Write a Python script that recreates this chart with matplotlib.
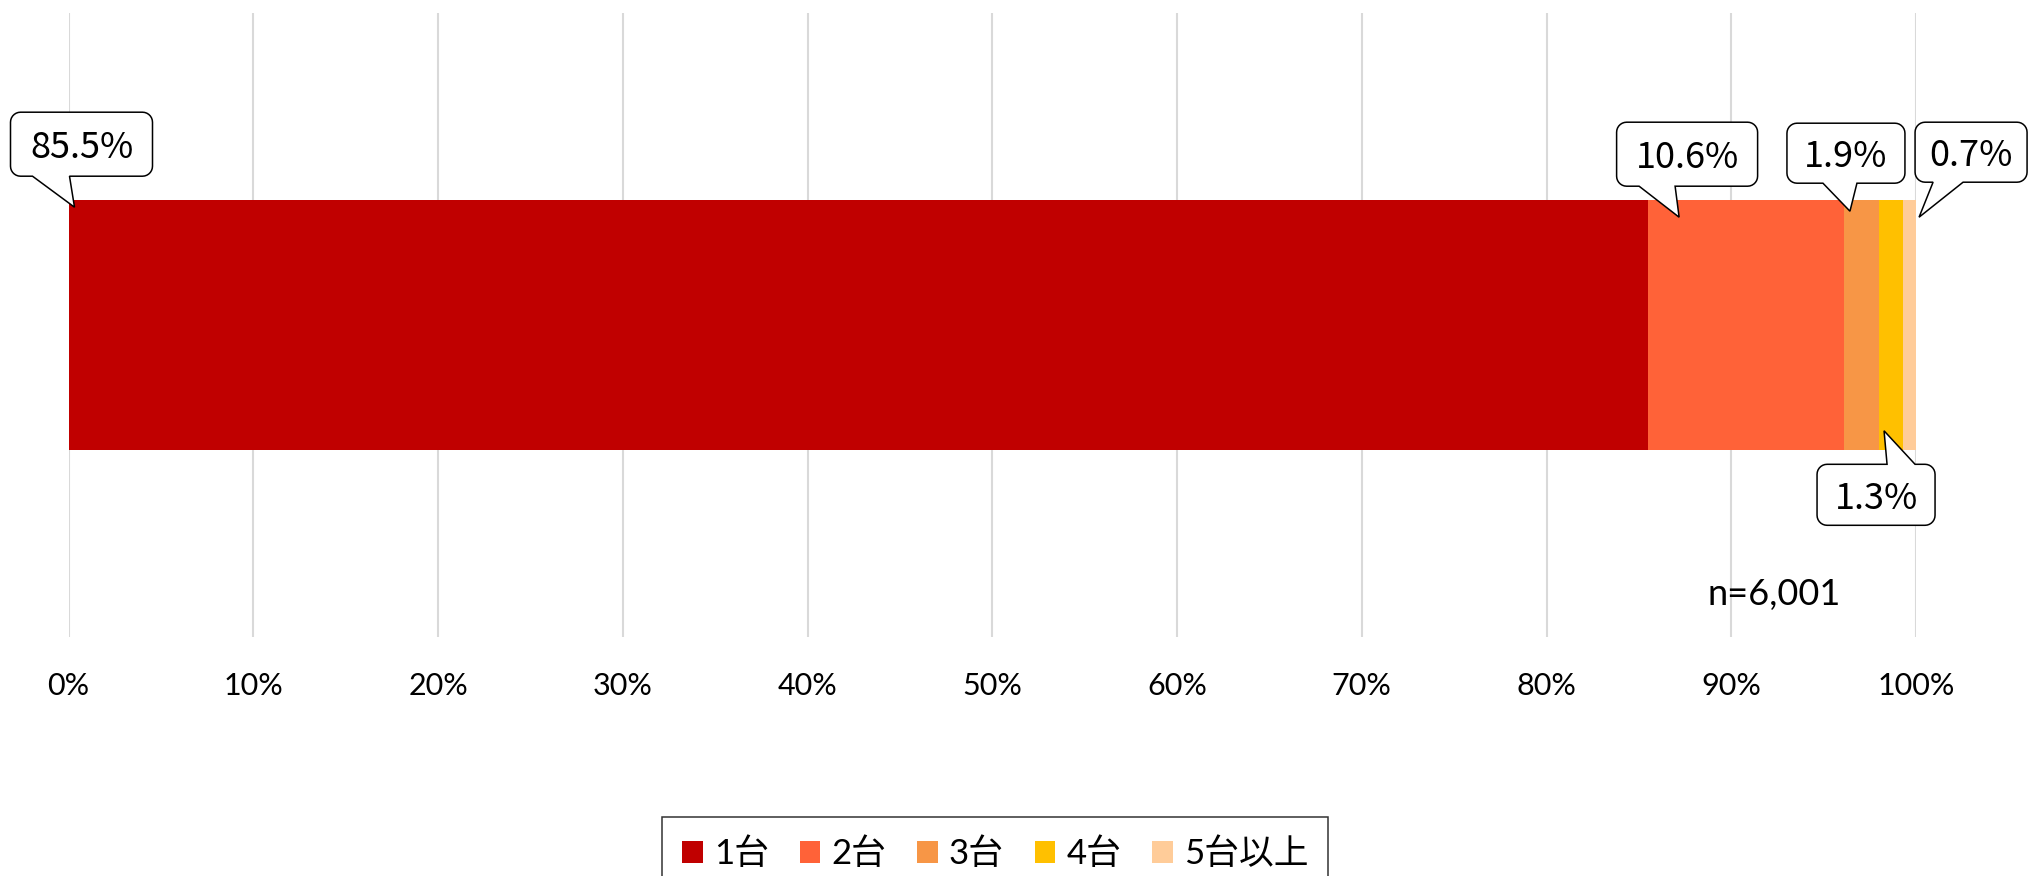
import numpy as np
import matplotlib
matplotlib.use("Agg")
import matplotlib.pyplot as plt
from matplotlib.patches import Patch, PathPatch
from matplotlib.path import Path
import matplotlib.transforms as mtransforms

plt.rcParams['font.family'] = ['Lato', 'Noto Sans CJK JP', 'DejaVu Sans']

# データ
categories = ['1台', '2台', '3台', '4台', '5台以上']
values = [85.5, 10.6, 1.9, 1.3, 0.7]
colors = ['#C00000', '#FF6238', '#F79646', '#FFC000', '#FFCC99']
tick_values = [0, 10, 20, 30, 40, 50, 60, 70, 80, 90, 100]
tick_labels = ['0%', '10%', '20%', '30%', '40%', '50%', '60%', '70%', '80%', '90%', '100%']
note = 'n=6,001'

# 吹き出しの配置(ピクセル, 上向き正)
# 先端: セグメント左端からのずれ / 吹き出し中心: 先端からのずれ / 幅, 高さ / 辺 / 付け根
call_tip = [(6, -7), (31, -17), (6, -11), (5, 19), (16, -17)]
call_center = [(7, 63), (8, 63), (-4, 58), (-8, -64), (52, 65)]
call_size = [(142, 64), (141, 64), (118, 60), (118, 61), (112, 60)]
call_side = ['bottom', 'bottom', 'bottom', 'top', 'bottom']
call_base = [(-42, -5), (-40, -4), (-27, 7), (3, 31), (14, 44)]

W, H, DPI = 2028, 876, 100
fig = plt.figure(figsize=(W / DPI, H / DPI), dpi=DPI)
ax = fig.add_axes([68.5 / W, (H - 637) / H, (1916 - 68.5) / W, (637 - 13) / H])

bar_h = 0.4
left = 0.0
lefts = []
for cat, v, c in zip(categories, values, colors):
    ax.barh(0, v, left=left, height=bar_h, color=c, label=cat, zorder=2)
    lefts.append(left)
    left += v

ax.set_xlim(0, 100)
ax.set_ylim(-0.5, 0.5)
ax.set_xticks(tick_values)
ax.set_xticklabels(tick_labels, fontsize=22, family=['Lato', 'DejaVu Sans'])
ax.tick_params(axis='x', length=0, pad=25)
ax.set_yticks([])
ax.xaxis.grid(True, color='#D9D9D9', linewidth=1.5, zorder=0)
ax.set_axisbelow(True)
for s in ax.spines.values():
    s.set_visible(False)


def callout_path(cx, cy, w, h, side, b0, b1, r=10):
    # 角丸の四角形 + しっぽ。先端が原点
    x0, x1 = cx - w / 2, cx + w / 2
    y0, y1 = cy - h / 2, cy + h / 2
    pts = []

    def arc(xc, yc, a0, a1):
        for t in np.linspace(a0, a1, 8):
            pts.append((xc + r * np.cos(t), yc + r * np.sin(t)))

    arc(x0 + r, y0 + r, np.pi, 1.5 * np.pi)
    if side == 'bottom':
        pts.extend([(b0, y0), (0, 0), (b1, y0)])
    arc(x1 - r, y0 + r, 1.5 * np.pi, 2 * np.pi)
    arc(x1 - r, y1 - r, 0, 0.5 * np.pi)
    if side == 'top':
        pts.extend([(b1, y1), (0, 0), (b0, y1)])
    arc(x0 + r, y1 - r, 0.5 * np.pi, np.pi)
    pts.append(pts[0])
    codes = [Path.MOVETO] + [Path.LINETO] * (len(pts) - 2) + [Path.CLOSEPOLY]
    return Path(pts, codes)


for i, v in enumerate(values):
    edge_y = bar_h / 2 if call_side[i] == 'bottom' else -bar_h / 2
    tdx, tdy = call_tip[i]
    cx, cy = call_center[i]
    w, h = call_size[i]
    b0, b1 = call_base[i]
    path = callout_path(cx, cy, w, h, call_side[i], b0, b1)
    trans = (mtransforms.Affine2D().translate(tdx, tdy).scale(fig.dpi / DPI)
             + mtransforms.ScaledTranslation(lefts[i], edge_y, ax.transData))
    ax.add_patch(PathPatch(path, transform=trans, facecolor='white',
                           edgecolor='black', linewidth=1.1, zorder=5, clip_on=False))
    ax.annotate(f'{v:.1f}%', xy=(lefts[i], edge_y),
                xytext=((tdx + cx) * fig.dpi / DPI, (tdy + cy) * fig.dpi / DPI),
                textcoords='offset pixels', ha='center', va='center_baseline',
                fontsize=26, family=['Noto Sans CJK JP'], zorder=6,
                annotation_clip=False)

fig.text(1774 / W, 1 - 595 / H, note, fontsize=26, ha='center', va='center',
         family=['Lato', 'DejaVu Sans'])

handles = [Patch(facecolor=c, label=cat) for cat, c in zip(categories, colors)]
leg = fig.legend(handles=handles, loc='upper left', bbox_to_anchor=(662 / W, 1 - 817 / H),
                 ncol=5, frameon=True, fancybox=False, edgecolor='black',
                 fontsize=25, handlelength=0.6, handleheight=0.6,
                 handletextpad=0.32, columnspacing=0.88, borderpad=0.58,
                 borderaxespad=0)
leg.get_frame().set_linewidth(1.1)

fig.savefig('out.png', dpi=DPI)
